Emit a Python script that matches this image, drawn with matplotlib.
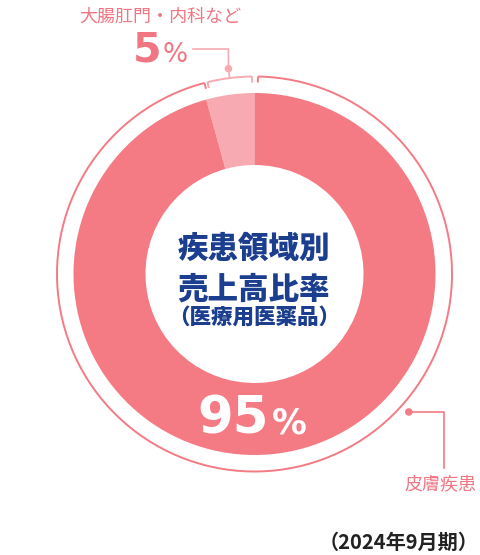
import numpy as np
import matplotlib
matplotlib.use('Agg')
import matplotlib.pyplot as plt
from matplotlib.patches import Arc, Circle

plt.rcParams['font.family'] = ['Noto Sans CJK JP', 'DejaVu Sans']

# data
areas = ['大腸肛門・内科など', '皮膚疾患']
shares = [4.3, 95.7]          # wedge sizes as drawn
pct_labels = ['5', '95']      # printed percentages
title_lines = ['疾患領域別', '売上高比率', '（医療用医薬品）']
period = '（2024年9月期）'

main_c = '#F47A84'
light_c = '#F8AAB2'
text_c = '#EF7682'
navy = '#1B3F8E'

W, H = 480, 555
fig = plt.figure(figsize=(4.8, 5.55), dpi=100)
ax = fig.add_axes([0, 0, 1, 1])

cx, cy = 254.5, H - 274
R = 181
hole = 109
ring_r = 197.5

ax.pie(shares, colors=[light_c, main_c], startangle=90, counterclock=True,
       center=(cx, cy), radius=R,
       wedgeprops=dict(width=R - hole, linewidth=0))

a0 = 90
a1 = 90 + 360 * shares[0] / sum(shares)

def pol(ang, r):
    t = np.radians(ang)
    return cx + r * np.cos(t), cy + r * np.sin(t)

def tick(ang, col):
    x0, y0 = pol(ang, ring_r)
    x1, y1 = pol(ang, ring_r - 6)
    ax.plot([x0, x1], [y0, y1], color=col, lw=1.4, solid_capstyle='butt')

# outer ring for the big share
m1, m2 = a1 - 0.8, a0 - 1.0 + 360
ax.add_patch(Arc((cx, cy), 2 * ring_r, 2 * ring_r, theta1=m1, theta2=m2,
                 color=main_c, lw=1.4))
tick(m1, main_c)
tick(m2, main_c)

# bracket for the small share
b1, b2 = a0 + 0.7, a1 - 1.7
ax.add_patch(Arc((cx, cy), 2 * ring_r, 2 * ring_r, theta1=b1, theta2=b2,
                 color=light_c, lw=1.4))
tick(b1, light_c)
tick(b2, light_c)

# leader for small share
bm = (b1 + b2) / 2
sx, sy = pol(bm, ring_r)
dx, dy = pol(bm, 207)
ax.plot([sx, dx, dx, 193], [sy, dy, H - 49, H - 49], color=light_c, lw=1.2)
ax.add_patch(Circle((dx, dy), 3.8, color=light_c, lw=0))

ax.text(160.5, H - 17, areas[0], ha='center', va='center', fontsize=13,
        color=text_c)
ax.text(161, H - 62, pct_labels[0], ha='right', va='baseline', fontsize=29.5,
        fontweight='bold', color=text_c, family='DejaVu Sans')
ax.text(163, H - 62, '%', ha='left', va='baseline', fontsize=19,
        color=text_c, family='DejaVu Sans')

# leader for big share
px, py = pol(-41.8, 207)
ax.plot([px, 444, 444], [py, py, H - 468], color=main_c, lw=1.2)
ax.add_patch(Circle((px, py), 3.8, color=main_c, lw=0))
ax.text(440.5, H - 484, areas[1], ha='center', va='center', fontsize=13,
        color=text_c)

ax.text(269, H - 433, pct_labels[1], ha='right', va='baseline', fontsize=37,
        fontweight='bold', color='white', family='DejaVu Sans')
ax.text(272, H - 433, '%', ha='left', va='baseline', fontsize=25,
        fontweight='bold', color='white', family='DejaVu Sans')

# centre title
ax.text(254, H - 248, title_lines[0], ha='center', va='center', fontsize=22,
        fontweight='heavy', color=navy)
ax.text(254, H - 289, title_lines[1], ha='center', va='center', fontsize=22,
        fontweight='heavy', color=navy)
ax.text(254, H - 318, title_lines[2], ha='center', va='center', fontsize=15.5,
        fontweight='heavy', color=navy)

ax.text(479, H - 542, period, ha='right', va='center', fontsize=14.5,
        fontweight='bold', color='#222222')

ax.set_xlim(0, W)
ax.set_ylim(0, H)
ax.set_aspect('equal')
ax.axis('off')

fig.savefig('out.png', dpi=100)
